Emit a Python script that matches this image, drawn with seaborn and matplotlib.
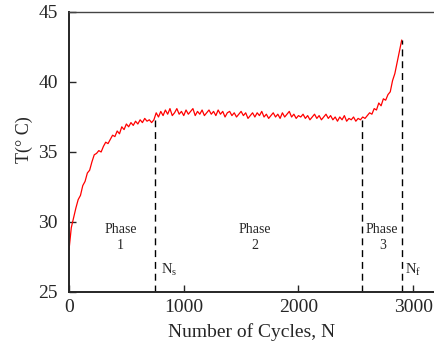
import matplotlib
matplotlib.use("Agg")
import pandas as pd
import seaborn as sns
import matplotlib.pyplot as plt

# temperature, every 20 cycles from 0 to 2900
cycles = list(range(0, 2901, 20))
temp = [
    28.0, 29.6, 30.3, 31.0, 31.6, 31.9, 32.6, 32.9, 33.5, 33.7,
    34.3, 34.8, 34.9, 35.1, 35.0, 35.4, 35.7, 35.6, 35.9, 36.2,
    36.1, 36.5, 36.3, 36.8, 36.6, 37.0, 36.8, 37.1, 36.9, 37.2,
    37.0, 37.3, 37.1, 37.4, 37.2, 37.3, 37.1, 37.3, 37.8, 37.5,
    37.9, 37.6, 38.0, 37.7, 38.1, 37.6, 37.8, 38.1, 37.7, 37.9,
    37.6, 38.0, 37.7, 37.9, 38.1, 37.6, 37.9, 37.7, 38.0, 37.6,
    37.8, 38.0, 37.7, 37.9, 37.6, 38.0, 37.7, 37.9, 37.5, 37.8,
    37.9, 37.6, 37.8, 37.5, 37.7, 37.9, 37.6, 37.8, 37.4, 37.6,
    37.8, 37.5, 37.8, 37.6, 37.9, 37.5, 37.7, 37.4, 37.6, 37.8,
    37.5, 37.7, 37.4, 37.8, 37.5, 37.7, 37.9, 37.5, 37.7, 37.4,
    37.6, 37.5, 37.7, 37.4, 37.6, 37.3, 37.5, 37.7, 37.4, 37.6,
    37.3, 37.5, 37.7, 37.4, 37.6, 37.3, 37.5, 37.2, 37.5, 37.3,
    37.6, 37.2, 37.4, 37.3, 37.5, 37.2, 37.4, 37.3, 37.5, 37.4,
    37.6, 37.8, 37.7, 38.1, 38.0, 38.5, 38.3, 38.8, 38.7, 39.1,
    39.3, 40.1, 40.6, 41.4, 42.2, 43.0,
]

# phase boundaries: (cycles, temperature where the dashed line stops)
n_s, t_s = 750, 37.3
n_23, t_23 = 2550, 37.3
n_f, t_f = 2900, 43.0

phase_labels = ["Phase\n1", "Phase\n2", "Phase\n3"]
phase_x = [450, 1620, 2730]

df = pd.DataFrame({"N": cycles, "T": temp})

sns.set_style("ticks")
plt.rcParams["font.family"] = ["Liberation Serif", "DejaVu Serif"]
plt.rcParams["mathtext.fontset"] = "custom"
plt.rcParams["mathtext.rm"] = "Liberation Serif"
plt.rcParams["mathtext.it"] = "Liberation Serif:italic"

fig = plt.figure(figsize=(4.35, 3.45), dpi=100)
ax = fig.add_axes([69 / 435, 53 / 345, 366 / 435, 280 / 345])

sns.lineplot(data=df, x="N", y="T", color="red", lw=0.9, ax=ax)

for nx, ty in [(n_s, t_s), (n_23, t_23), (n_f, t_f)]:
    ax.plot([nx, nx], [25, ty], color="black", lw=1, ls=(0, (5, 3.5)))

for lab, px in zip(phase_labels, phase_x):
    ax.text(px, 28.9, lab, ha="center", va="center", fontsize=10, linespacing=1.25)

ax.text(n_s + 50, 26.6, r"N$_\mathregular{s}$", fontsize=10.5, va="center")
ax.text(n_f + 30, 26.6, r"N$_\mathregular{f}$", fontsize=10.5, va="center")

ax.set_xlim(0, 3190)
ax.set_ylim(25, 45)
ax.set_xticks([0, 1000, 2000, 3000])
ax.set_yticks([25, 30, 35, 40, 45])
ax.tick_params(direction="in", length=5, width=1, labelsize=14)
ax.tick_params(axis="y", pad=8)
ax.tick_params(axis="x", pad=5)
ax.set_xlabel("Number of Cycles, N", fontsize=14, labelpad=5)
ax.set_ylabel("T(° C)", fontsize=13)
ax.yaxis.set_label_coords(-0.097, 0.545)

ax.spines["right"].set_visible(False)
for s in ["left", "bottom"]:
    ax.spines[s].set_linewidth(1.4)
ax.spines["top"].set_linewidth(1.0)
ax.spines["top"].set_color("#444444")

fig.savefig("out.png", dpi=100)
